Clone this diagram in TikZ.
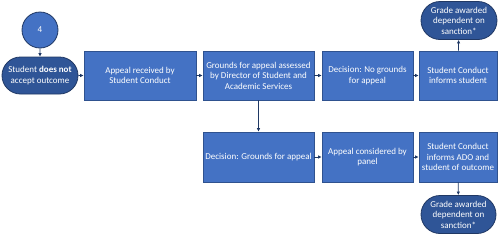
\documentclass[tikz,border=0pt]{standalone}
\usepackage{fontspec}
\setmainfont{Carlito}
\usetikzlibrary{positioning,shapes.misc,arrows.meta}
\definecolor{boxblue}{HTML}{4472C4}
\definecolor{boxedge}{HTML}{2F528F}
\definecolor{termblue}{HTML}{2F5597}
\definecolor{termedge}{HTML}{203864}
\definecolor{linkblue}{HTML}{1F3864}
\tikzset{
proc/.style={rectangle,draw=boxedge,fill=boxblue,line width=0.8pt,text=white,align=center,
minimum height=49pt,inner sep=1pt,font=\fontsize{9}{10.5}\selectfont},
term/.style={rounded rectangle,draw=termedge,fill=termblue,line width=0.8pt,text=white,align=center,
minimum width=78pt,minimum height=38pt,inner sep=1pt,font=\fontsize{9}{10.5}\selectfont},
startc/.style={circle,draw=termedge,fill=boxblue,line width=0.8pt,text=white,
minimum size=36pt,inner sep=0pt,font=\fontsize{9}{10.5}\selectfont},
flow/.style={-{Latex[length=3.5pt,width=3.5pt]},draw=linkblue,line width=0.8pt}
}

\begin{document}
\begin{tikzpicture}[x=1pt,y=-1pt]
\useasboundingbox (0,0) rectangle (499,236);
% top row
\node[startc] (four) at (40,30) {4};
\node[term,minimum height=37pt] (noacc) at (40,75.5) {Student \textbf{does not}\\accept outcome};
\node[proc,minimum width=112pt] (recv) at (140,75.5) {Appeal received by\\Student Conduct};
\node[proc,minimum width=111pt] (assess) at (258.5,75.5) {Grounds for appeal assessed\\by Director of Student and\\Academic Services};
\node[proc,minimum width=91pt] (nogr) at (367.5,75.5) {Decision: No grounds\\for appeal};
\node[proc,minimum width=78pt] (inform) at (458,75.5) {Student Conduct\\informs student};
\node[term] (gradeA) at (459,20.5) {Grade awarded\\dependent on\\sanction*};
% bottom row
\node[proc,minimum width=111pt,minimum height=50pt] (grnds) at (258.5,157) {Decision: Grounds for appeal};
\node[proc,minimum width=91pt,minimum height=50pt] (panel) at (367.5,157) {Appeal considered by\\panel};
\node[proc,minimum width=78pt,minimum height=50pt] (outc) at (458,157) {Student Conduct\\informs ADO and\\student of outcome};
\node[term,minimum width=77pt] (gradeB) at (458.5,214.5) {Grade awarded\\dependent on\\sanction*};
% connectors
\draw[flow] (four) -- (noacc);
\draw[flow] (noacc) -- (recv);
\draw[flow] (recv) -- (assess);
\draw[flow] (assess) -- (nogr);
\draw[flow] (nogr) -- (inform);
\draw[flow] (inform) -- (gradeA);
\draw[flow] (assess) -- (grnds);
\draw[flow] (grnds) -- (panel);
\draw[flow] (panel) -- (outc);
\draw[flow] (outc) -- (gradeB);
\end{tikzpicture}
\end{document}
